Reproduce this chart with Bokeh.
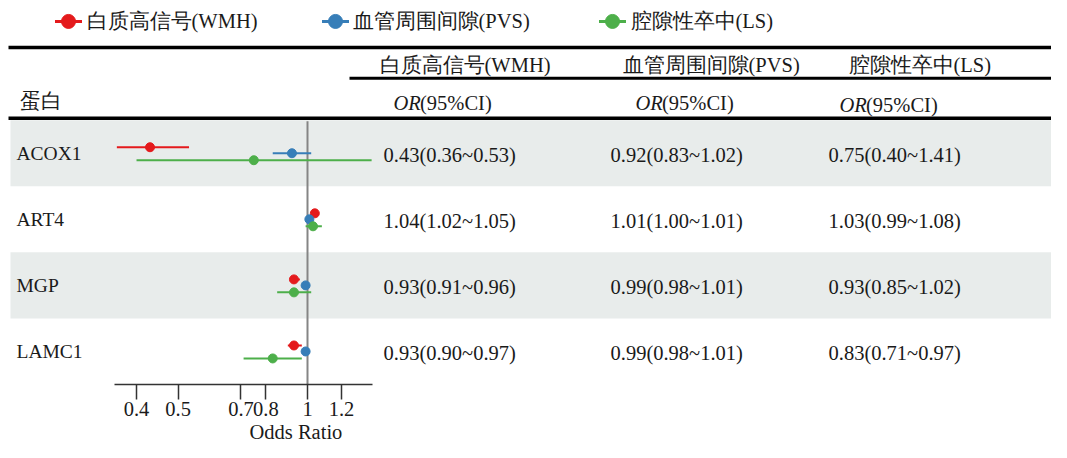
import math
from bokeh.plotting import figure
from bokeh.models import (Range1d, LogScale, LogAxis, FixedTicker,
                          CustomJSTickFormatter, ColumnDataSource, Title)
from bokeh.core.properties import value
from bokeh.embed import file_html
from bokeh.resources import INLINE

# ---------------- data ----------------
proteins = ["ACOX1", "ART4", "MGP", "LAMC1"]
outcomes = ["白质高信号(WMH)", "血管周围间隙(PVS)", "腔隙性卒中(LS)"]

wmh_or = [0.43, 1.04, 0.93, 0.93]
wmh_lo = [0.36, 1.02, 0.91, 0.90]
wmh_hi = [0.53, 1.05, 0.96, 0.97]

pvs_or = [0.92, 1.01, 0.99, 0.99]
pvs_lo = [0.83, 1.00, 0.98, 0.98]
pvs_hi = [1.02, 1.01, 1.01, 1.01]

ls_or = [0.75, 1.03, 0.93, 0.83]
ls_lo = [0.40, 0.99, 0.85, 0.71]
ls_hi = [1.41, 1.08, 1.02, 0.97]

tick_values = [0.4, 0.5, 0.7, 0.8, 1, 1.2]
header_protein = "蛋白"
header_stat_italic = "OR"
header_stat_rest = "(95%CI)"
axis_title = "Odds Ratio"

# ---------------- styles / layout ----------------
COLORS = ["#E41A1C", "#377EB8", "#4DAF4A"]
BAND = "#E8ECEB"
TXT = "#1a1a1a"
FONT = value("Liberation Serif")
FS = "20.5px"

W, H = 1051, 442
X0, X1 = 0, W               # picture-px at frame left/right
Y_TOP, Y_AXIS = 0, 385      # picture-px at frame top/bottom
ONE_X = 307                 # picture-px where OR = 1
PX_PER_LN = 186.6           # picture-px per natural-log unit
or_start = math.exp((X0 - ONE_X) / PX_PER_LN)
or_end = math.exp((X1 - ONE_X) / PX_PER_LN)

ROW_TOP = 120
ROW_H = 66.25
centers = [ROW_TOP + (i + 0.5) * ROW_H for i in range(len(proteins))]
OFFSETS = [-6, 0, 7]

p = figure(width=W, height=H,
           x_range=Range1d(X0, X1), y_range=Range1d(Y_AXIS, Y_TOP),
           x_axis_type=None, y_axis_type=None,
           toolbar_location=None, output_backend="svg",
           min_border=0)
p.extra_x_ranges = {"or": Range1d(or_start, or_end)}
p.extra_x_scales = {"or": LogScale()}
p.outline_line_color = None
p.background_fill_color = "white"
p.border_fill_color = "white"

# shaded bands (rows 1 and 3)
band_rows = [i for i in range(len(proteins)) if i % 2 == 0]
p.quad(left=[10] * len(band_rows), right=[X1] * len(band_rows),
       top=[ROW_TOP + i * ROW_H for i in band_rows],
       bottom=[ROW_TOP + (i + 1) * ROW_H for i in band_rows],
       fill_color=BAND, line_color=None)

# horizontal rules
p.segment(x0=[8, 349, 8], x1=[X1, X1, X1], y0=[47, 78, 118], y1=[47, 78, 118],
          line_color="black", line_width=[3.5, 3, 3.5])

# reference line at OR = 1
p.segment(x0=[1], x1=[1], y0=[ROW_TOP + 1], y1=[Y_AXIS + 5],
          line_color="#858585", line_width=2, x_range_name="or")

# forest marks
series = [(wmh_or, wmh_lo, wmh_hi), (pvs_or, pvs_lo, pvs_hi), (ls_or, ls_lo, ls_hi)]
for k, (o, lo, hi) in enumerate(series):
    src = ColumnDataSource(dict(y=[c + OFFSETS[k] for c in centers], o=o, lo=lo, hi=hi))
    p.segment(x0="lo", x1="hi", y0="y", y1="y", source=src,
              line_color=COLORS[k], line_width=2, x_range_name="or")
    p.scatter(x="o", y="y", source=src, size=9, fill_color=COLORS[k],
              line_color=COLORS[k], x_range_name="or")

# legend (top)
LEG_MARK_X = [68, 335, 612]
LEG_TEXT_X = [86, 352, 630]
LEG_Y = 21
for k in range(3):
    p.segment(x0=[LEG_MARK_X[k] - 13.5], x1=[LEG_MARK_X[k] + 13.5],
              y0=[LEG_Y], y1=[LEG_Y], line_color=COLORS[k], line_width=3)
    p.scatter(x=[LEG_MARK_X[k]], y=[LEG_Y], size=14, fill_color=COLORS[k],
              line_color=COLORS[k])
p.text(x=LEG_TEXT_X, y=[LEG_Y] * 3, text=outcomes, text_font=FONT,
       text_font_size=FS, text_color=TXT, text_baseline="middle", text_align="left")

# table headers
COL_HDR_X = [379, 622, 848]
p.text(x=COL_HDR_X, y=[65] * 3, text=outcomes, text_font=FONT, text_font_size=FS,
       text_color=TXT, text_baseline="middle", text_align="left")
OR_X = [393, 635, 839]
OR_Y = [103, 103, 105]
p.text(x=OR_X, y=OR_Y, text=[header_stat_italic] * 3, text_font=FONT,
       text_font_size=FS, text_font_style="italic", text_color=TXT,
       text_baseline="middle", text_align="left")
p.text(x=[x + 26.5 for x in OR_X], y=OR_Y, text=[header_stat_rest] * 3,
       text_font=FONT, text_font_size=FS, text_color=TXT,
       text_baseline="middle", text_align="left")
p.text(x=[19], y=[101], text=[header_protein], text_font=FONT, text_font_size=FS,
       text_color=TXT, text_baseline="middle", text_align="left")

# row labels
p.text(x=[16] * len(proteins), y=centers, text=proteins, text_font=FONT,
       text_font_size="19.5px", text_color=TXT, text_baseline="middle", text_align="left")

# value columns
VAL_X = [383, 610, 828]
for k, (o, lo, hi) in enumerate(series):
    labels = [f"{a:.2f}({b:.2f}~{c:.2f})" for a, b, c in zip(o, lo, hi)]
    p.text(x=[VAL_X[k]] * len(labels), y=[c + 1.5 for c in centers], text=labels,
           text_font=FONT, text_font_size=FS, text_color=TXT,
           text_baseline="middle", text_align="left")

# log axis
ax = LogAxis(x_range_name="or", ticker=FixedTicker(ticks=tick_values),
             formatter=CustomJSTickFormatter(code="return tick.toString();"),
             bounds=(0.355, 1.42))
ax.axis_line_color = "#333333"
ax.axis_line_width = 1.5
ax.major_tick_line_color = "#333333"
ax.major_tick_line_width = 1.5
ax.major_tick_in = 0
ax.major_tick_out = 15
ax.minor_tick_in = 0
ax.minor_tick_out = 0
ax.major_label_standoff = 2
ax.major_label_text_font = "Liberation Serif"
ax.major_label_text_font_size = FS
ax.major_label_text_color = TXT
p.add_layout(ax, "below")

# axis title placed under the forest panel
p.add_layout(Title(text=axis_title, align="left", offset=249, standoff=0,
                   text_font="Liberation Serif", text_font_size=FS,
                   text_font_style="normal", text_color=TXT), "below")

open("out.html", "w").write(file_html(p, INLINE))
